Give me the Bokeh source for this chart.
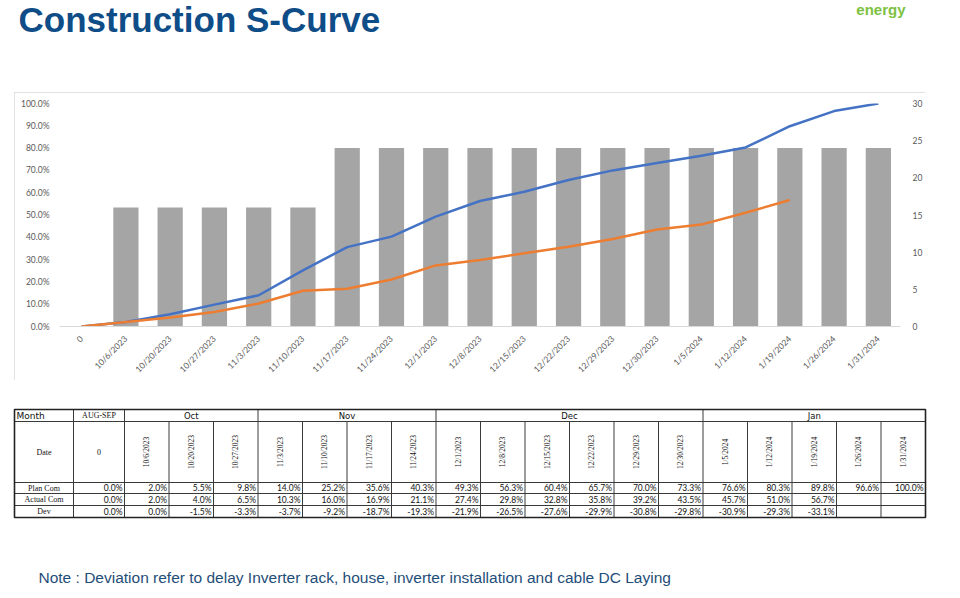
from bokeh.plotting import figure
from bokeh.models import (FactorRange, Range1d, LinearAxis, FixedTicker,
                          NumeralTickFormatter, Spacer)
from bokeh.layouts import column, row
from bokeh.core.properties import value
from bokeh.embed import file_html
from bokeh.resources import INLINE
import math

# ---------------- data ----------------
categories = ["0", "10/6/2023", "10/20/2023", "10/27/2023", "11/3/2023", "11/10/2023",
              "11/17/2023", "11/24/2023", "12/1/2023", "12/8/2023", "12/15/2023",
              "12/22/2023", "12/29/2023", "12/30/2023", "1/5/2024", "1/12/2024",
              "1/19/2024", "1/26/2024", "1/31/2024"]
plan_pct = [0.0, 2.0, 5.5, 9.8, 14.0, 25.2, 35.6, 40.3, 49.3, 56.3, 60.4, 65.7,
            70.0, 73.3, 76.6, 80.3, 89.8, 96.6, 100.0]
actual_pct = [0.0, 2.0, 4.0, 6.5, 10.3, 16.0, 16.9, 21.1, 27.4, 29.8, 32.8, 35.8,
              39.2, 43.5, 45.7, 51.0, 56.7]
dev_pct = [0.0, 0.0, -1.5, -3.3, -3.7, -9.2, -18.7, -19.3, -21.9, -26.5, -27.6,
           -29.9, -30.8, -29.8, -30.9, -29.3, -33.1]
bar_categories = categories[1:]
bar_values = [16, 16, 16, 16, 16, 24, 24, 24, 24, 24, 24, 24, 24, 24, 24, 24, 24, 24]
left_ticks = [0.0, 0.1, 0.2, 0.3, 0.4, 0.5, 0.6, 0.7, 0.8, 0.9, 1.0]
right_ticks = [0, 5, 10, 15, 20, 25, 30]
months = ["Oct", "Nov", "Dec", "Jan"]
month_spans = [3, 4, 6, 5]
row_labels = ["Plan Com", "Actual Com", "Dev"]

GREY_TXT = "#595959"

# ---------------- header ----------------
head = figure(width=960, height=92, x_range=Range1d(0, 960), y_range=Range1d(92, 0),
              output_backend="svg", toolbar_location=None, title=None,
              x_axis_location=None, y_axis_location=None, min_border=0)
head.grid.visible = False
head.outline_line_color = None
head.text(x=[18], y=[19], text=["Construction S-Curve"], text_font=value("Liberation Sans"),
          text_font_style="bold", text_font_size="35px", text_color="#0E4D87",
          text_baseline="alphabetic", text_align="left")
head.text(x=[905], y=[9], text=["energy"], text_font=value("Liberation Sans"),
          text_font_style="bold", text_font_size="15px", text_color="#7CC142",
          text_baseline="alphabetic", text_align="right")

# ---------------- chart ----------------
p = figure(width=911, height=288, x_range=FactorRange(*categories), y_range=Range1d(0, 1),
           output_backend="svg", toolbar_location=None, title=None,
           min_border_left=45, min_border_right=25, min_border_top=11, min_border_bottom=54,
           styles={"outline": "1px solid #D9D9D9", "outline-offset": "-1px"})
p.extra_y_ranges = {"right": Range1d(0, 30)}
p.outline_line_color = None
p.grid.visible = False
p.x_range.range_padding = 0

p.vbar(x=bar_categories, top=bar_values, width=0.57, y_range_name="right",
       fill_color="#A5A5A5", line_color=None)
p.line(x=categories, y=[v / 100 for v in plan_pct], line_color="#4472C4", line_width=2.5)
p.line(x=categories[:len(actual_pct)], y=[v / 100 for v in actual_pct],
       line_color="#ED7D31", line_width=2.5)

xa = p.xaxis[0]
xa.axis_line_color = "#D9D9D9"
xa.major_tick_line_color = None
xa.minor_tick_line_color = None
xa.major_label_orientation = math.pi / 4
xa.major_label_text_font = "Lato"
xa.major_label_text_font_size = "8.5px"
xa.major_label_text_color = GREY_TXT
xa.major_label_standoff = 5

ya = p.yaxis[0]
ya.ticker = FixedTicker(ticks=left_ticks)
ya.formatter = NumeralTickFormatter(format="0.0%")
ya.axis_line_color = None
ya.major_tick_line_color = None
ya.minor_tick_line_color = None
ya.major_label_text_font = "Lato"
ya.major_label_text_font_size = "8.5px"
ya.major_label_text_color = GREY_TXT
ya.major_label_standoff = 4

ra = LinearAxis(y_range_name="right", ticker=FixedTicker(ticks=right_ticks))
ra.axis_line_color = None
ra.major_tick_line_color = None
ra.minor_tick_line_color = None
ra.major_label_text_font = "Lato"
ra.major_label_text_font_size = "8.5px"
ra.major_label_text_color = GREY_TXT
ra.major_label_standoff = 6
p.add_layout(ra, "right")

# ---------------- table + note ----------------
t = figure(width=960, height=218, x_range=Range1d(0, 960), y_range=Range1d(218, 0),
           output_backend="svg", toolbar_location=None, title=None,
           x_axis_location=None, y_axis_location=None, min_border=0)
t.grid.visible = False
t.outline_line_color = None

x_left, x_c1, x_c2, col_w = 14, 73, 124, 44.5
n_cols = len(categories) - 1
x_right = x_c2 + n_cols * col_w
r_top, r_month, r_date, r_plan, r_act, r_dev = 29, 41, 102, 113, 125, 137
data_edges = [x_c2 + i * col_w for i in range(n_cols + 1)]

hy = [r_month, r_date, r_plan, r_act]
t.segment(x0=[x_left] * len(hy), x1=[x_right] * len(hy), y0=hy, y1=hy,
          line_color="#3A3A3A", line_width=1)
group_edges = [x_c1, x_c2]
acc = 0
for s in month_spans:
    acc += s
    group_edges.append(x_c2 + acc * col_w)
t.segment(x0=group_edges, x1=group_edges, y0=[r_top] * len(group_edges),
          y1=[r_month] * len(group_edges), line_color="#3A3A3A", line_width=1)
v_edges = [x_c1] + data_edges
t.segment(x0=v_edges, x1=v_edges, y0=[r_month] * len(v_edges),
          y1=[r_dev] * len(v_edges), line_color="#3A3A3A", line_width=1)
t.rect(x=[(x_left + x_right) / 2], y=[(r_top + r_dev) / 2], width=[x_right - x_left],
       height=[r_dev - r_top], fill_color=None, line_color="#222222", line_width=1.6)

serif = value("Liberation Serif")
sans = value("DejaVu Sans")
t.text(x=[x_left + 2], y=[(r_top + r_month) / 2], text=["Month"], text_font=sans,
       text_font_size="9px", text_baseline="middle", text_align="left", text_color="#111111")
t.text(x=[(x_c1 + x_c2) / 2], y=[(r_top + r_month) / 2], text=["AUG-SEP"], text_font=serif,
       text_font_size="8px", text_baseline="middle", text_align="center", text_color="#111111")
mx = []
acc = 0
for s in month_spans:
    mx.append(x_c2 + (acc + s / 2) * col_w)
    acc += s
t.text(x=mx, y=[(r_top + r_month) / 2] * len(mx), text=months, text_font=sans,
       text_font_size="8.5px", text_baseline="middle", text_align="center", text_color="#111111")
t.text(x=[(x_left + x_c1) / 2], y=[(r_month + r_date) / 2], text=["Date"], text_font=serif,
       text_font_size="8px", text_baseline="middle", text_align="center", text_color="#111111")
t.text(x=[(x_c1 + x_c2) / 2], y=[(r_month + r_date) / 2], text=[categories[0]], text_font=serif,
       text_font_size="8px", text_baseline="middle", text_align="center", text_color="#111111")
dc = [x_c2 + (i + 0.5) * col_w for i in range(n_cols)]
t.text(x=dc, y=[(r_month + r_date) / 2] * n_cols, text=categories[1:], angle=math.pi / 2,
       text_font=serif, text_font_size="7.5px", text_baseline="middle", text_align="center",
       text_color="#111111")
row_ys = [(r_date + r_plan) / 2, (r_plan + r_act) / 2, (r_act + r_dev) / 2]
t.text(x=[(x_left + x_c1) / 2] * 3, y=row_ys, text=row_labels, text_font=serif,
       text_font_size="8px", text_baseline="middle", text_align="center", text_color="#111111")
right_edges = [x_c2] + [x_c2 + (i + 1) * col_w for i in range(n_cols)]
for vals, yy in zip([plan_pct, actual_pct, dev_pct], row_ys):
    t.text(x=[e - 2 for e in right_edges[:len(vals)]], y=[yy] * len(vals),
           text=[f"{v:.1f}%" for v in vals], text_font=value("Lato"), text_font_size="8.5px",
           text_baseline="middle", text_align="right", text_color="#111111")

t.text(x=[38], y=[197], text=["Note : Deviation refer to delay Inverter rack, house, inverter installation and cable DC Laying"],
       text_font=value("Liberation Sans"), text_font_size="15.5px", text_color="#1F4E79",
       text_baseline="alphabetic", text_align="left")

layout = column(head, row(Spacer(width=14, height=288), p), t)
open("out.html", "w").write(file_html(layout, INLINE))
